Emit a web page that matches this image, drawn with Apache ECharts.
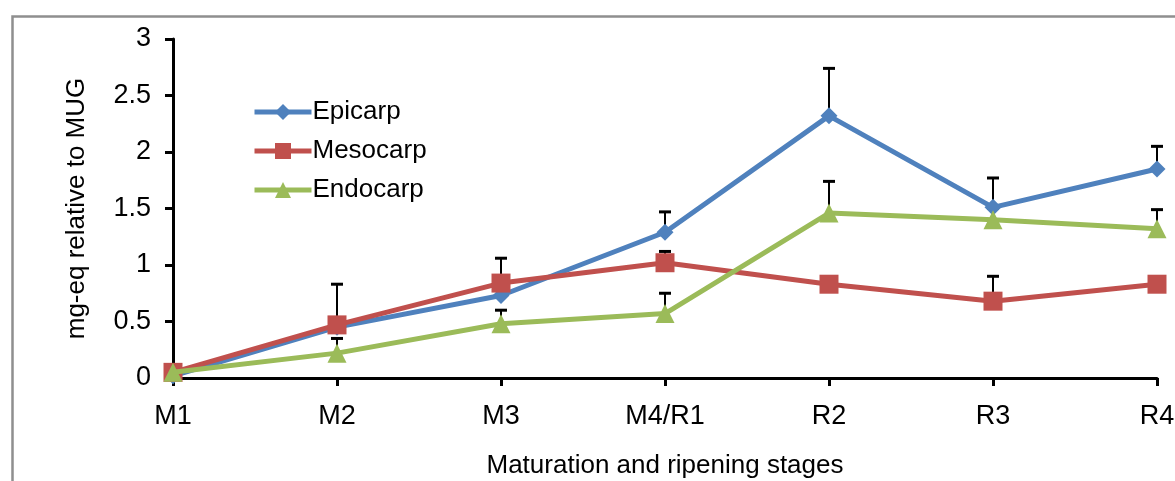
<!DOCTYPE html>
<html>
<head>
<meta charset="utf-8">
<script src="https://cdn.jsdelivr.net/npm/echarts@6/dist/echarts.min.js"></script>
<style>
html,body{margin:0;padding:0;background:#fff;}
#c{width:1175px;height:481px;}
</style>
</head>
<body>
<div id="c"></div>
<script>
const categories = ['M1', 'M2', 'M3', 'M4/R1', 'R2', 'R3', 'R4'];
const epicarp = [0.02, 0.45, 0.73, 1.29, 2.32, 1.51, 1.85];
const epicarpSD = [0, 0, 0, 0.18, 0.42, 0.26, 0.20];
const mesocarp = [0.05, 0.47, 0.84, 1.02, 0.83, 0.68, 0.83];
const mesocarpSD = [0, 0.36, 0.22, 0.10, 0, 0.22, 0];
const endocarp = [0.05, 0.22, 0.48, 0.57, 1.46, 1.40, 1.32];
const endocarpSD = [0, 0.13, 0.12, 0.18, 0.28, 0.10, 0.17];
const yTicks = [0, 0.5, 1, 1.5, 2, 2.5, 3];

const FONT = '"Liberation Sans", Arial, sans-serif';

function errData(vals, sds) {
  const out = [];
  vals.forEach((v, i) => { if (sds[i] > 0) out.push([i, v, v + sds[i]]); });
  return out;
}
function errSeries(name, vals, sds) {
  return {
    type: 'custom',
    name: name + ' err',
    z: 1,
    silent: true,
    data: errData(vals, sds),
    renderItem: function (params, api) {
      const x = api.value(0);
      const lo = api.coord([x, api.value(1)]);
      const hi = api.coord([x, api.value(2)]);
      const hw = 6;
      return {
        type: 'group',
        children: [
          { type: 'line', shape: { x1: lo[0], y1: lo[1], x2: hi[0], y2: hi[1] }, style: { stroke: '#000', lineWidth: 2 } },
          { type: 'line', shape: { x1: hi[0] - hw, y1: hi[1], x2: hi[0] + hw, y2: hi[1] }, style: { stroke: '#000', lineWidth: 3 } }
        ]
      };
    }
  };
}

const chart = echarts.init(document.getElementById('c'), null, { renderer: 'canvas' });
chart.setOption({
  animation: false,
  backgroundColor: '#fff',
  textStyle: { fontFamily: FONT },
  graphic: [{
    type: 'rect', left: 10, top: 14, z: -10,
    shape: { x: 0, y: 0, width: 1200, height: 500 },
    style: { fill: 'none', stroke: '#8f8f8f', lineWidth: 2.5 }
  }],
  grid: { left: 173, right: 18, top: 39, bottom: 103, containLabel: false, outerBoundsMode: 'none' },
  legend: {
    left: 247, top: 94, orient: 'vertical',
    itemWidth: 57, itemHeight: 20, itemGap: 13,
    lineStyle: { width: 5 },
    textStyle: { fontFamily: FONT, fontSize: 26, color: '#000', padding: [0, 0, 0, -4] },
    data: ['Epicarp', 'Mesocarp', 'Endocarp']
  },
  xAxis: {
    type: 'category', data: categories, boundaryGap: false,
    name: 'Maturation and ripening stages', nameLocation: 'middle', nameGap: 75,
    nameTextStyle: { fontFamily: FONT, fontSize: 26, color: '#000' },
    axisLine: { lineStyle: { color: '#000', width: 3 } },
    axisTick: { show: true, length: 8, lineStyle: { color: '#000', width: 3 } },
    axisLabel: { fontFamily: FONT, fontSize: 27, color: '#000', margin: 25 },
    splitLine: { show: false }
  },
  yAxis: {
    type: 'value', min: 0, max: 3, interval: 0.5,
    name: 'mg-eq relative to MUG', nameLocation: 'middle', nameGap: 83,
    nameTextStyle: { fontFamily: FONT, fontSize: 26, color: '#000' },
    axisLine: { show: true, lineStyle: { color: '#000', width: 3 } },
    axisTick: { show: true, length: 8, lineStyle: { color: '#000', width: 3 } },
    axisLabel: { fontFamily: FONT, fontSize: 27, color: '#000', margin: 22,
      formatter: v => (yTicks.includes(v) ? String(v) : '') },
    splitLine: { show: false }
  },
  series: [
    errSeries('Epicarp', epicarp, epicarpSD),
    errSeries('Mesocarp', mesocarp, mesocarpSD),
    errSeries('Endocarp', endocarp, endocarpSD),
    {
      name: 'Epicarp', type: 'line', data: epicarp, z: 3,
      symbol: 'diamond', symbolSize: 17,
      lineStyle: { color: '#4f81bd', width: 5 },
      itemStyle: { color: '#4f81bd' }
    },
    {
      name: 'Mesocarp', type: 'line', data: mesocarp, z: 4,
      symbol: 'rect', symbolSize: 19,
      lineStyle: { color: '#c0504d', width: 5 },
      itemStyle: { color: '#c0504d' }
    },
    {
      name: 'Endocarp', type: 'line', data: endocarp, z: 5,
      symbol: 'triangle', symbolSize: 19,
      lineStyle: { color: '#9bbb59', width: 5 },
      itemStyle: { color: '#9bbb59' }
    }
  ]
});
</script>
</body>
</html>
